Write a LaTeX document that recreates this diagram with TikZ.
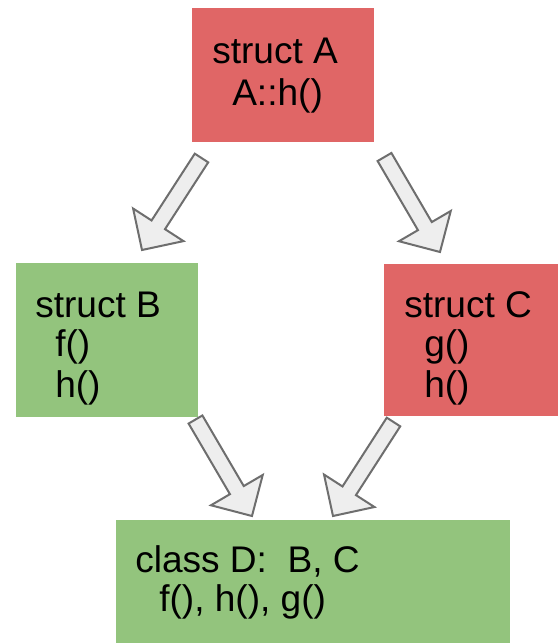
\documentclass[tikz,border=0pt]{standalone}
\usepackage{fontspec}
\setmainfont{Liberation Sans}
\usetikzlibrary{calc}
\definecolor{boxred}{HTML}{E06666}
\definecolor{boxgreen}{HTML}{93C47D}
\definecolor{arrfill}{HTML}{EEEEEE}
\definecolor{arrline}{HTML}{6E6E6E}
\tikzset{
  box/.style={draw=none, fill=#1, inner sep=0pt, anchor=north west},
  txt/.style={anchor=base west, inner sep=0pt, font=\fontsize{27.8}{30}\selectfont},
  barrow/.style={draw=arrline, fill=arrfill, line width=1.5pt, line join=miter}
}
\newcommand{\blockarr}[2]{%
  \coordinate (#1h) at ($(#2)!22.5pt!(#1)$);
  \draw[barrow] ($(#1)!6pt!90:(#2)$) -- ($(#1h)!6pt!90:(#2)$) -- ($(#1h)!22.5pt!90:(#2)$) -- (#2)
     -- ($(#1h)!22.5pt!-90:(#2)$) -- ($(#1h)!6pt!-90:(#2)$) -- ($(#1)!6pt!-90:(#2)$) -- cycle;
}
\begin{document}
\begin{tikzpicture}[x=0.75pt, y=-0.75pt]
\useasboundingbox (0,0) rectangle (558,643);
% boxes
\node[box=boxred, minimum width=136.5pt, minimum height=100.5pt] (A) at (192,8) {};
\node[box=boxgreen, minimum width=136.5pt, minimum height=115.5pt] (B) at (16,263) {};
\node[box=boxred, minimum width=130.5pt, minimum height=114pt] (C) at (384,264) {};
\node[box=boxgreen, minimum width=295.5pt, minimum height=92.25pt] (D) at (116,520) {};
% texts
\node[txt] (A1) at (212,63) {struct A};
\node[txt] (A2) at (232,105) {A::h()};
\node[txt] (B1) at (35,317) {struct B};
\node[txt] (B2) at (55,356) {f()};
\node[txt] (B3) at (55,397) {h()};
\node[txt] (C1) at (404,317) {struct C};
\node[txt] (C2) at (424,356) {g()};
\node[txt] (C3) at (424,397) {h()};
\node[txt] (D1) at (135,572) {class D:\ \ B, C};
\node[txt] (D2) at (159,611) {f(), h(), g()};
% arrows
\coordinate (t1) at (201.5,158); \coordinate (p1) at (142,250);
\coordinate (t2) at (384.5,157); \coordinate (p2) at (440,252);
\coordinate (t3) at (195.5,419.5); \coordinate (p3) at (252,516);
\coordinate (t4) at (393.5,422); \coordinate (p4) at (333,516);
\blockarr{t1}{p1}
\blockarr{t2}{p2}
\blockarr{t3}{p3}
\blockarr{t4}{p4}
\end{tikzpicture}
\end{document}
